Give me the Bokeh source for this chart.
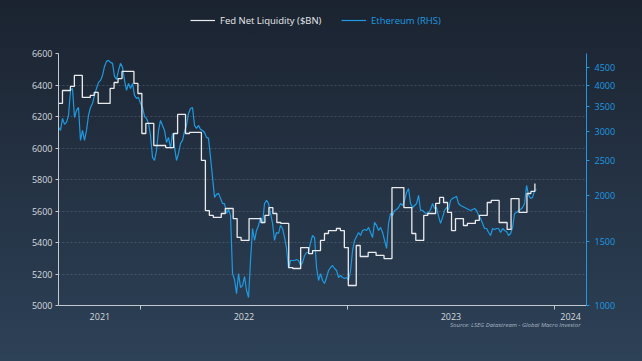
import pandas as pd
from bokeh.plotting import figure
from bokeh.layouts import column
from bokeh.models import (Range1d, LogAxis, LogScale, FixedTicker, Legend, LegendItem, Title,
                          NumeralTickFormatter, DatetimeTickFormatter)
from bokeh.embed import file_html
from bokeh.resources import INLINE

# ---------------- data ----------------
liq_start = "2021-08-09"          # weekly observations
liquidity = [6283, 6365, 6365, 6391, 6461, 6461, 6321, 6321, 6334, 6353,
             6283, 6283, 6283, 6378, 6416, 6441, 6486, 6486, 6486, 6410,
             6346, 6092, 6156, 6156, 6016, 6016, 6016, 6003, 6003, 6092,
             6213, 6213, 6092, 6099, 6099, 6099, 5921, 5603, 5572, 5559,
             5559, 5584, 5616, 5616, 5552, 5432, 5413, 5413, 5552, 5552,
             5552, 5527, 5572, 5622, 5584, 5527, 5521, 5521, 5241, 5235,
             5235, 5368, 5368, 5330, 5349, 5349, 5413, 5457, 5476, 5476,
             5489, 5476, 5368, 5127, 5127, 5381, 5311, 5311, 5337, 5337,
             5318, 5318, 5298, 5298, 5749, 5749, 5749, 5622, 5622, 5457,
             5413, 5413, 5572, 5584, 5584, 5648, 5686, 5654, 5591, 5476,
             5552, 5552, 5508, 5521, 5521, 5540, 5572, 5572, 5654, 5667,
             5667, 5527, 5527, 5483, 5679, 5679, 5591, 5591, 5711, 5724,
             5775]

eth_start, eth_end = "2021-08-09", "2023-11-30"
ethereum = [3074, 3016, 3254, 3133, 3173, 3315, 3882, 3931, 3273, 3422,
            3487, 2832, 3016, 2832, 3016, 3315, 3487, 3576, 3762, 3931,
            4083, 4135, 4267, 4517, 4662, 4691, 4633, 4604, 4240, 4161,
            4405, 4604, 4490, 4135, 3882, 4057, 3931, 4057, 3762, 3692,
            3715, 3576, 3487, 3294, 3254, 3153, 2923, 2545, 2496, 2659,
            3016, 3213, 3113, 3016, 2797, 2887, 2692, 2960, 2710, 2496,
            2609, 2779, 2832, 2997, 3113, 3357, 3465, 3487, 3113, 3055,
            3113, 3036, 3016, 2978, 2887, 2869, 2545, 2243, 1977, 2015,
            2028, 1965, 1902, 1902, 1787, 1832, 1765, 1223, 1178, 1078,
            1223, 1120, 1134, 1200, 1099, 1052, 1328, 1625, 1507, 1605,
            1657, 1743, 1678, 1902, 1940, 1902, 1787, 1678, 1507, 1585,
            1575, 1657, 1625, 1536, 1433, 1263, 1328, 1328, 1328, 1336,
            1328, 1287, 1311, 1371, 1397, 1397, 1488, 1555, 1536, 1271,
            1171, 1223, 1171, 1149, 1193, 1247, 1271, 1287, 1263, 1247,
            1193, 1208, 1193, 1186, 1193, 1171, 1247, 1415, 1507, 1545,
            1585, 1555, 1605, 1615, 1605, 1636, 1585, 1536, 1689, 1657,
            1605, 1636, 1585, 1507, 1433, 1678, 1787, 1765, 1821, 1832,
            1855, 1902, 1879, 1940, 2040, 2092, 1902, 1855, 1879, 1902,
            2002, 1821, 1821, 1798, 1787, 1798, 1832, 1902, 1843, 1855,
            1754, 1678, 1743, 1821, 1855, 1832, 1940, 1965, 1977, 1990,
            1902, 1879, 1867, 1855, 1843, 1832, 1821, 1832, 1843, 1821,
            1765, 1732, 1678, 1625, 1625, 1585, 1555, 1625, 1615, 1625,
            1625, 1585, 1625, 1605, 1595, 1555, 1575, 1636, 1787, 1798,
            1821, 1832, 1855, 1902, 2132, 2002, 1965, 1977, 2066, 2079]

x_start, x_end = "2021-08-09", "2024-02-26"
year_bounds = ["2022-01-01", "2023-01-01", "2024-01-01"]
year_label_dates = ["2021-10-21", "2022-07-02", "2023-07-02", "2024-01-29"]   # labels centred in each year span
left_ticks = [5000, 5200, 5400, 5600, 5800, 6000, 6200, 6400, 6600]
right_ticks = [1000, 1500, 2000, 2500, 3000, 3500, 4000, 4500]
left_range = (5000, 6600)
right_range = (1000, 4900)
series_names = ["Fed Net Liquidity ($BN)", "Ethereum (RHS)"]
source_text = "Source: LSEG Datastream - Global Macro Investor"

# ---------------- styling ----------------
WHITE = "#e9ebee"
BLUE = "#1f9ae0"
AXIS_GREY = "#c4c9d0"
TEXT_GREY = "#d5d9de"
FONT = "Open Sans"
W = 642

liq_dates = pd.date_range(liq_start, periods=len(liquidity), freq="7D")
eth_dates = pd.date_range(eth_start, eth_end, periods=len(ethereum))

def ms(d):
    return pd.Timestamp(d).value / 1e6

x_rng = Range1d(ms(x_start), ms(x_end))

# ---------- legend strip (its frame is aligned with the main chart's frame) ----------
lg_fig = figure(width=W, height=40, x_range=x_rng, y_range=Range1d(-2, -1),
                output_backend="svg", toolbar_location=None)
lg_fig.min_border_left = 58
lg_fig.min_border_right = 56
lg_fig.min_border_top = lg_fig.min_border_bottom = 0
lg_fig.axis.visible = False
lg_fig.grid.visible = False
lg_fig.background_fill_alpha = 0
lg_fig.border_fill_alpha = 0
lg_fig.outline_line_color = None
# same series, out of this strip's y-range: only their legend samples show
d_liq = lg_fig.line(liq_dates, liquidity, line_color=WHITE, line_width=1.2, line_cap="butt")
d_eth = lg_fig.line(eth_dates, ethereum, line_color=BLUE, line_width=1.2, line_cap="butt")
for rend, name, col, loc in [(d_liq, series_names[0], WHITE, (132, 10)),
                             (d_eth, series_names[1], BLUE, (283, 10))]:
    lg = Legend(items=[LegendItem(label=name, renderers=[rend])], location=loc,
                orientation="horizontal", background_fill_alpha=0, border_line_color=None,
                padding=0, margin=0, glyph_width=25, label_standoff=5,
                label_text_color=col, label_text_font=FONT, label_text_font_size="9.5px")
    lg_fig.add_layout(lg, "center")

# ---------- main chart ----------
p = figure(width=W, height=321, x_axis_type="datetime",
           x_range=x_rng, y_range=Range1d(*left_range),
           output_backend="svg", toolbar_location=None)
p.min_border_left = 58
p.min_border_right = 56
p.min_border_top = 13
p.min_border_bottom = 56
p.background_fill_alpha = 0
p.border_fill_alpha = 0
p.outline_line_color = None

p.extra_y_ranges = {"eth": Range1d(*right_range)}
p.extra_y_scales = {"eth": LogScale()}

r_eth = p.line(eth_dates, ethereum, y_range_name="eth", line_color=BLUE, line_width=1.2)
r_liq = p.step(liq_dates, liquidity, mode="after", line_color=WHITE, line_width=1.3)

# x axis
xa = p.xaxis[0]
xa.ticker = FixedTicker(ticks=[ms(d) for d in year_label_dates],
                        minor_ticks=[ms(d) for d in year_bounds])
xa.formatter = DatetimeTickFormatter(years="%Y", months="%Y", days="%Y", hours="%Y",
                                     minutes="%Y", seconds="%Y", milliseconds="%Y",
                                     microseconds="%Y", minsec="%Y", hourmin="%Y")
xa.major_tick_out = 0
xa.major_tick_in = 0
xa.minor_tick_out = 4
xa.minor_tick_in = 0
xa.minor_tick_line_color = AXIS_GREY
xa.axis_line_color = AXIS_GREY
xa.major_label_text_color = TEXT_GREY
xa.major_label_text_font = FONT
xa.major_label_text_font_size = "9px"
xa.major_label_standoff = 3

# left axis
ya = p.yaxis[0]
ya.ticker = FixedTicker(ticks=left_ticks)
ya.axis_line_color = AXIS_GREY
ya.major_tick_line_color = AXIS_GREY
ya.major_tick_out = 3
ya.major_tick_in = 0
ya.minor_tick_line_color = None
ya.major_label_text_color = TEXT_GREY
ya.major_label_text_font = FONT
ya.major_label_text_font_size = "9px"
ya.major_label_standoff = 3

# right axis (log)
ra = LogAxis(y_range_name="eth", ticker=FixedTicker(ticks=right_ticks),
             formatter=NumeralTickFormatter(format="0"))
ra.axis_line_color = BLUE
ra.major_tick_line_color = BLUE
ra.major_tick_out = 3
ra.major_tick_in = 0
ra.minor_tick_line_color = None
ra.major_label_text_color = BLUE
ra.major_label_text_font = FONT
ra.major_label_text_font_size = "9px"
ra.major_label_standoff = 5
p.add_layout(ra, "right")

# grid
p.xgrid.grid_line_color = None
p.ygrid.ticker = FixedTicker(ticks=left_ticks)
p.ygrid.grid_line_color = "#6b7a8c"
p.ygrid.grid_line_alpha = 0.55
p.ygrid.grid_line_dash = "2 2"
p.ygrid.grid_line_width = 0.8

# source note
src = Title(text=source_text, align="right", offset=6, standoff=-8,
            text_font=FONT, text_font_size="6px", text_font_style="italic",
            text_color="#a9b6c4")
p.add_layout(src, "below")

layout = column(lg_fig, p, spacing=0)

html = file_html(layout, INLINE, title="Fed Net Liquidity vs Ethereum")
html = html.replace("</head>",
                    "<style>html{min-height:100%;"
                    "background:linear-gradient(180deg,#1b2330 0%,#2d4157 100%) fixed;}</style></head>")
open("out.html", "w").write(html)
